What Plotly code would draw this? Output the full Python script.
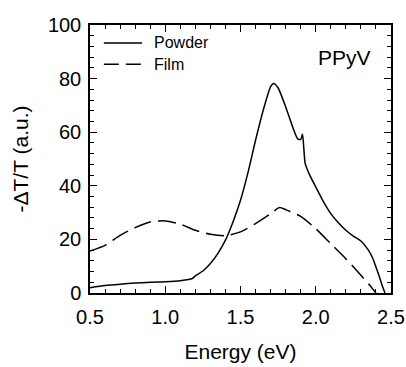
import plotly.graph_objects as go

powder_x = [0.5, 0.6, 0.7, 0.8, 0.9, 1.0, 1.1, 1.18, 1.2, 1.25, 1.3, 1.35, 1.4, 1.45, 1.5, 1.55, 1.6, 1.65, 1.7, 1.72, 1.75, 1.8, 1.85, 1.88, 1.9, 1.912, 1.92, 1.93, 1.96, 2.0, 2.05, 2.1, 2.15, 2.2, 2.25, 2.3, 2.35, 2.38, 2.4, 2.42, 2.44, 2.46]
powder_y = [2.0, 2.8, 3.3, 3.7, 4.0, 4.2, 4.6, 5.4, 6.4, 8.2, 11.0, 14.8, 19.7, 26.5, 34.6, 45.0, 57.0, 68.0, 77.0, 78.2, 76.5, 69.5, 61.4, 57.5, 57.3, 59.2, 54.5, 48.3, 44.0, 39.6, 34.2, 29.6, 26.2, 23.4, 21.2, 19.4, 16.0, 12.8, 9.7, 6.5, 3.0, 0.0]

film_x = [0.5, 0.6, 0.7, 0.8, 0.9, 1.0, 1.1, 1.2, 1.3, 1.4, 1.5, 1.6, 1.7, 1.76, 1.8, 1.9, 2.0, 2.1, 2.2, 2.3, 2.35, 2.4]
film_y = [15.7, 17.8, 21.5, 24.4, 26.5, 26.9, 25.7, 23.4, 21.9, 21.4, 22.8, 25.9, 29.6, 31.9, 31.1, 28.6, 24.0, 18.4, 12.8, 6.6, 3.5, 0.0]

series_names = ["Powder", "Film"]
x_ticks = [0.5, 1.0, 1.5, 2.0, 2.5]
x_ticklabels = ["0.5", "1.0", "1.5", "2.0", "2.5"]
y_ticks = [0, 20, 40, 60, 80, 100]
x_range = [0.5, 2.5]
y_range = [0, 100]

font = "Liberation Sans, Arial, sans-serif"
FILM_DASH = "18px,7px"

fig = go.Figure()
fig.add_trace(go.Scatter(x=powder_x, y=powder_y, mode="lines", name=series_names[0], showlegend=False,
                         line=dict(color="black", width=1.5, shape="spline", smoothing=0.6)))
fig.add_trace(go.Scatter(x=film_x, y=film_y, mode="lines", name=series_names[1], showlegend=False,
                         line=dict(color="black", width=1.5, dash=FILM_DASH, shape="spline", smoothing=0.6)))

tick_common = dict(ticks="inside", ticklen=7, tickwidth=1.2, tickcolor="black",
                   showgrid=False, zeroline=False, automargin=False)

fig.update_layout(
    xaxis=dict(range=x_range, tickvals=x_ticks, ticktext=x_ticklabels,
               showline=True, linecolor="black", linewidth=1.5,
               minor=dict(dtick=0.1, ticks="inside", ticklen=4, tickwidth=1, tickcolor="black"),
               tickfont=dict(family=font, size=20, color="black"), ticklabelstandoff=5,
               title=dict(text="Energy (eV)", font=dict(family=font, size=21, color="black"), standoff=18),
               **tick_common),
    yaxis=dict(range=y_range, tickvals=y_ticks,
               showline=True, linecolor="black", linewidth=1.5,
               minor=dict(dtick=4, ticks="inside", ticklen=4, tickwidth=1, tickcolor="black"),
               tickfont=dict(family=font, size=20, color="black"), ticklabelstandoff=3,
               title=dict(text="-ΔT/T (a.u.)", font=dict(family=font, size=21, color="black"), standoff=14),
               **tick_common),
    xaxis2=dict(range=x_range, overlaying="x", side="top", tickvals=x_ticks, showticklabels=False,
                showline=True, linecolor="black", linewidth=1.5,
                minor=dict(dtick=0.1, ticks="inside", ticklen=4, tickwidth=1, tickcolor="black"),
                **tick_common),
    yaxis2=dict(range=y_range, overlaying="y", side="right", tickvals=y_ticks, showticklabels=False,
                showline=True, linecolor="black", linewidth=1.5,
                minor=dict(dtick=4, ticks="inside", ticklen=4, tickwidth=1, tickcolor="black"),
                **tick_common),
)
# invisible trace so the mirrored tick axes are drawn
fig.add_trace(go.Scatter(x=[x_range[0]], y=[y_range[0]], xaxis="x2", yaxis="y2", mode="markers",
                         marker=dict(opacity=0), showlegend=False, hoverinfo="skip"))

# legend drawn by hand to match the original key
legend_rows = [(series_names[0], "solid", 0.933), (series_names[1], "15px,7px", 0.854)]
for name, dash, ly in legend_rows:
    fig.add_shape(type="line", xref="paper", yref="paper", x0=0.046, x1=0.173, y0=ly, y1=ly,
                  line=dict(color="black", width=1.5, dash=dash))
    fig.add_annotation(x=0.205, y=ly, xref="paper", yref="paper", text=name, showarrow=False,
                       xanchor="left", yanchor="middle", font=dict(family=font, size=16, color="black"))

fig.add_annotation(x=0.847, y=0.877, xref="paper", yref="paper", text="PPyV", showarrow=False,
                   xanchor="center", yanchor="middle",
                   font=dict(family=font, size=21, color="black"))

fig.update_layout(
    width=406, height=367,
    margin=dict(l=90, r=15, t=25, b=74),
    paper_bgcolor="white", plot_bgcolor="white",
    showlegend=False,
)

fig.write_html("out.html")
